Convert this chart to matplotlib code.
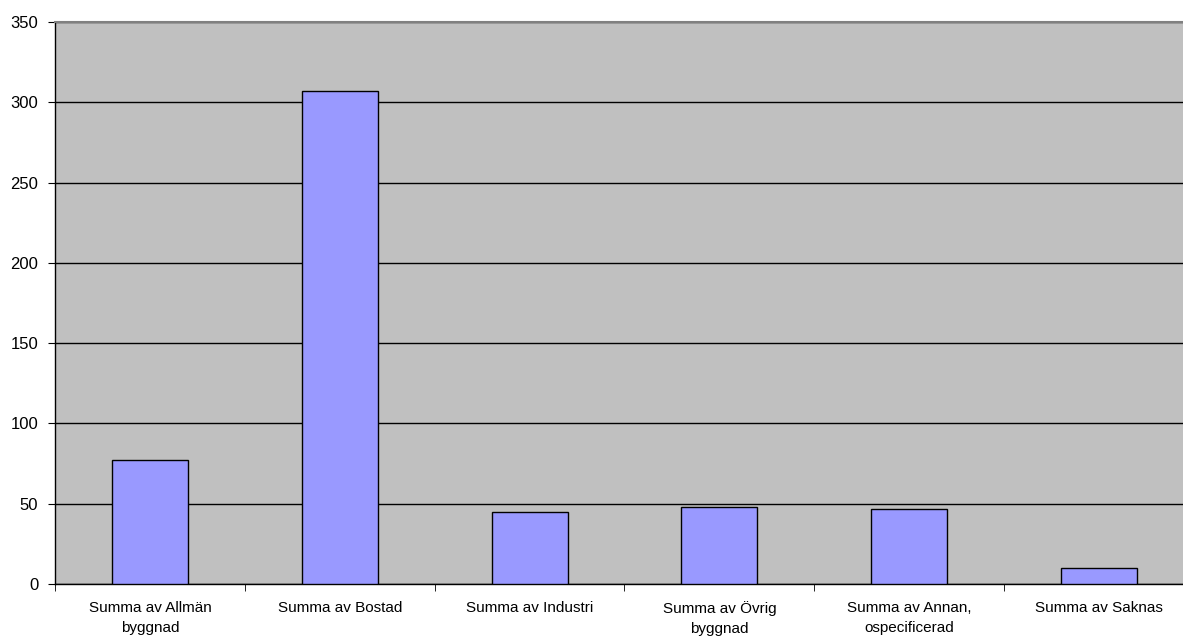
import matplotlib.pyplot as plt
import numpy as np

categories = ["Summa av Allmän\nbyggnad", "Summa av Bostad", "Summa av Industri",
              "Summa av Övrig\nbyggnad", "Summa av Annan,\nospecificerad", "Summa av Saknas"]
values = [77, 307, 45, 48, 47, 10]
y_ticks = [0, 50, 100, 150, 200, 250, 300, 350]

plt.rcParams['font.family'] = ['Liberation Sans', 'DejaVu Sans']

fig = plt.figure(figsize=(11.83, 6.43), dpi=100)
# plot area runs a little past the right edge of the picture, as in the reference
ax = fig.add_axes([55 / 1183, 1 - 584 / 643, 1139 / 1183, (584 - 22) / 643])
ax.set_facecolor('#C0C0C0')

x = np.arange(len(categories))
ax.bar(x, values, width=0.4, color='#9999FF', edgecolor='black', linewidth=1, zorder=3)

ax.set_xlim(-0.5, len(categories) - 0.5)
ax.set_ylim(0, 350)
ax.set_yticks(y_ticks)
ax.yaxis.grid(True, color='black', linewidth=1, zorder=1)
ax.set_axisbelow(True)

ax.set_xticks(x)
ax.set_xticklabels(categories, fontsize=11, linespacing=1.55)
ax.set_xticks(np.arange(-0.5, len(categories)), minor=True)
ax.tick_params(axis='x', which='major', length=0, pad=12)
ax.tick_params(axis='x', which='minor', length=5, direction='out', color='black')
ax.tick_params(axis='y', length=5, direction='out', labelsize=12, color='black', pad=7)

ax.spines['top'].set_color('#808080')
ax.spines['top'].set_linewidth(1.5)
ax.spines['right'].set_visible(False)
for side in ['left', 'bottom']:
    ax.spines[side].set_color('black')
    ax.spines[side].set_linewidth(1)

fig.savefig('out.png', dpi=100)
